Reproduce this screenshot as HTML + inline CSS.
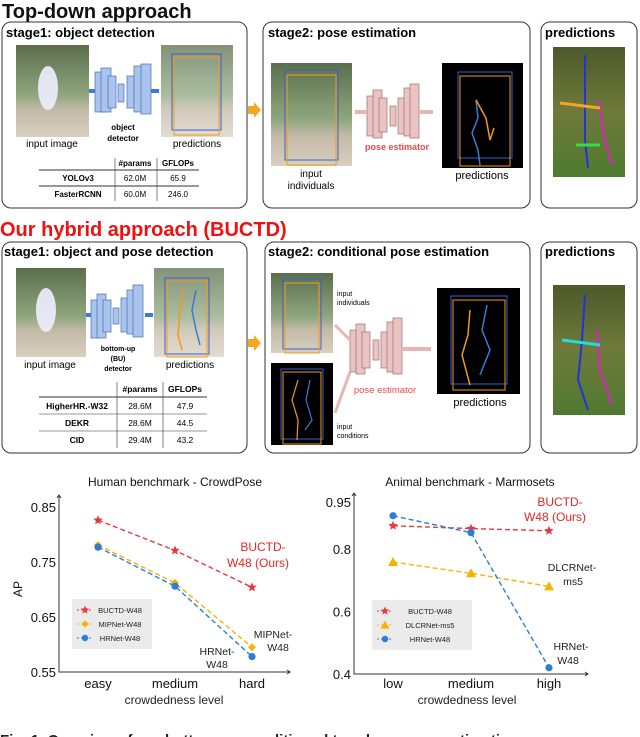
<!DOCTYPE html>
<html><head><meta charset="utf-8"><style>
body{margin:0;background:#fff;width:640px;height:737px;overflow:hidden;font-family:"Liberation Sans",sans-serif}
svg{display:block}
</style></head><body>
<svg id="s" width="640" height="737" viewBox="0 0 640 737" xmlns="http://www.w3.org/2000/svg" font-family="Liberation Sans, sans-serif">
<defs>
<linearGradient id="ph" x1="0" y1="0" x2="0" y2="1"><stop offset="0" stop-color="#5a6e4c"/><stop offset="0.55" stop-color="#8fa77f"/><stop offset="0.7" stop-color="#c2b9a6"/><stop offset="1" stop-color="#d8cfc0"/></linearGradient>
<linearGradient id="ph2" x1="0" y1="0" x2="0" y2="1"><stop offset="0" stop-color="#4d5a2a"/><stop offset="0.5" stop-color="#6f7a3a"/><stop offset="1" stop-color="#4f7a2f"/></linearGradient>
</defs>
<text x="2" y="18" font-size="20" font-weight="bold" fill="#111">Top-down approach</text>
<rect x="2" y="22" width="245" height="186" rx="9" fill="none" stroke="#333" stroke-width="1"/>
<text x="6" y="37" font-size="13" font-weight="bold">stage1: object detection</text>
<rect x="16" y="45" width="73" height="92" fill="url(#ph)"/>
<ellipse cx="48" cy="88" rx="10" ry="22" fill="#eef" opacity="0.9"/>
<g fill="#a9c4ef" stroke="#4a6fa5" stroke-width="0.7">
<rect x="95" y="72" width="10" height="40"/><rect x="101" y="68" width="10" height="44"/><rect x="108" y="76" width="8" height="32"/><rect x="118" y="84" width="6" height="18"/><rect x="127" y="76" width="8" height="32"/><rect x="134" y="66" width="10" height="46"/><rect x="141" y="64" width="10" height="50"/>
</g>
<rect x="89" y="89" width="6" height="4" fill="#3a7bd5"/><rect x="151" y="89" width="8" height="4" fill="#3a7bd5"/>
<text x="123" y="130" font-size="8" text-anchor="middle" font-weight="bold">object</text><text x="123" y="141" font-size="8" text-anchor="middle" font-weight="bold">detector</text>
<text x="52" y="147" font-size="10" text-anchor="middle">input image</text>
<rect x="161" y="45" width="72" height="92" fill="url(#ph)" opacity="0.75"/>
<rect x="172" y="54" width="49" height="76" fill="none" stroke="#3a5fd0" stroke-width="1"/><rect x="174" y="57" width="45" height="78" fill="none" stroke="#f39c12" stroke-width="1"/>
<text x="197" y="147" font-size="10" text-anchor="middle">predictions</text>
<g font-size="8">
<text x="135" y="166" text-anchor="middle" font-weight="bold">#params</text><text x="178" y="166" text-anchor="middle" font-weight="bold">GFLOPs</text>
<line x1="39" y1="170" x2="199" y2="170" stroke="#333"/><line x1="39" y1="186" x2="199" y2="186" stroke="#333"/>
<line x1="115" y1="158" x2="115" y2="201" stroke="#333" stroke-width="0.6"/><line x1="157" y1="158" x2="157" y2="201" stroke="#333" stroke-width="0.6"/>
<text x="78" y="181" text-anchor="middle" font-weight="bold">YOLOv3</text><text x="135" y="181" text-anchor="middle">62.0M</text><text x="178" y="181" text-anchor="middle">65.9</text>
<text x="78" y="197" text-anchor="middle" font-weight="bold">FasterRCNN</text><text x="135" y="197" text-anchor="middle">60.0M</text><text x="178" y="197" text-anchor="middle">246.0</text>
</g>
<polygon points="248,106 254,106 254,102 261,110 254,118 254,114 248,114" fill="#f5a623"/>
<rect x="263" y="22" width="267" height="186" rx="9" fill="none" stroke="#333"/>
<text x="268" y="37" font-size="13" font-weight="bold">stage2: pose estimation</text>
<rect x="271" y="63" width="81" height="103" fill="url(#ph)"/>
<rect x="285" y="70" width="53" height="90" fill="none" stroke="#3a5fd0"/><rect x="287" y="75" width="49" height="90" fill="none" stroke="#f39c12"/>
<text x="311" y="177" font-size="10" text-anchor="middle">input</text><text x="311" y="189" font-size="10" text-anchor="middle">individuals</text>
<g fill="#ecc3c3" stroke="#9a7070" stroke-width="0.7">
<rect x="367" y="96" width="9" height="40"/><rect x="373" y="90" width="9" height="48"/><rect x="379" y="98" width="8" height="34"/><rect x="390" y="106" width="6" height="20"/><rect x="398" y="98" width="8" height="36"/><rect x="404" y="88" width="9" height="48"/><rect x="410" y="84" width="9" height="54"/>
</g>
<rect x="355" y="110" width="12" height="4" fill="#e8b4b4"/><rect x="419" y="110" width="14" height="4" fill="#e8b4b4"/>
<text x="397" y="150" font-size="9" text-anchor="middle" fill="#e84a4a" font-weight="bold">pose estimator</text>
<rect x="442" y="63" width="81" height="105" fill="#000"/>
<rect x="458" y="72" width="54" height="86" fill="none" stroke="#3a5fd0"/><rect x="460" y="76" width="50" height="90" fill="none" stroke="#f39c12"/>
<polyline points="476,100 478,118 472,133 478,150 480,165" fill="none" stroke="#3a7bd5" stroke-width="1.5"/><polyline points="476,100 486,118 490,140 494,128" fill="none" stroke="#f39c12" stroke-width="1.5"/>
<text x="482" y="179" font-size="11" text-anchor="middle">predictions</text>
<rect x="541" y="22" width="96" height="186" rx="9" fill="none" stroke="#333"/>
<text x="545" y="37" font-size="13" font-weight="bold">predictions</text>
<rect x="553" y="47" width="72" height="130" fill="url(#ph2)"/>
<polyline points="585,55 585,140 588,168" fill="none" stroke="#2233dd" stroke-width="2"/><polyline points="598,100 605,140 612,165" fill="none" stroke="#e020c0" stroke-width="2"/><line x1="560" y1="103" x2="600" y2="108" stroke="#f7a51c" stroke-width="3"/><line x1="576" y1="145" x2="600" y2="145" stroke="#33dd44" stroke-width="3"/>
<text x="0" y="236" font-size="20" font-weight="bold" fill="#ee1111">Our hybrid approach (BUCTD)</text>
<rect x="2" y="242" width="245" height="211" rx="9" fill="none" stroke="#333"/>
<text x="4" y="256" font-size="13" font-weight="bold">stage1: object and pose detection</text>
<rect x="16" y="268" width="70" height="89" fill="url(#ph)"/>
<ellipse cx="46" cy="310" rx="10" ry="22" fill="#eef" opacity="0.9"/>
<g fill="#a9c4ef" stroke="#4a6fa5" stroke-width="0.7">
<rect x="91" y="300" width="9" height="38"/><rect x="97" y="294" width="9" height="44"/><rect x="103" y="300" width="8" height="32"/><rect x="113" y="308" width="6" height="16"/><rect x="121" y="298" width="8" height="34"/><rect x="127" y="290" width="9" height="44"/><rect x="133" y="285" width="10" height="52"/>
</g>
<rect x="86" y="313" width="5" height="4" fill="#3a7bd5"/><rect x="145" y="313" width="8" height="4" fill="#3a7bd5"/>
<text x="118" y="351" font-size="7" text-anchor="middle" font-weight="bold">bottom-up</text><text x="118" y="361" font-size="7" text-anchor="middle" font-weight="bold">(BU)</text><text x="118" y="371" font-size="7" text-anchor="middle" font-weight="bold">detector</text>
<text x="50" y="368" font-size="10" text-anchor="middle">input image</text>
<rect x="154" y="268" width="70" height="89" fill="url(#ph)" opacity="0.75"/>
<rect x="165" y="278" width="44" height="76" fill="none" stroke="#3a5fd0"/><rect x="167" y="281" width="40" height="76" fill="none" stroke="#f39c12"/>
<polyline points="183,290 180,310 178,335 182,350" fill="none" stroke="#f39c12" stroke-width="1.5"/><polyline points="196,290 192,310 196,330 200,345" fill="none" stroke="#3a7bd5" stroke-width="1.5"/>
<text x="190" y="368" font-size="10" text-anchor="middle">predictions</text>
<g font-size="8.5">
<text x="140" y="392" text-anchor="middle" font-weight="bold">#params</text><text x="185" y="392" text-anchor="middle" font-weight="bold">GFLOPs</text>
<line x1="39" y1="397" x2="207" y2="397" stroke="#333"/><line x1="39" y1="414" x2="207" y2="414" stroke="#333" stroke-width="0.6"/><line x1="39" y1="431" x2="207" y2="431" stroke="#333" stroke-width="0.6"/>
<line x1="117" y1="382" x2="117" y2="448" stroke="#333" stroke-width="0.6"/><line x1="163" y1="382" x2="163" y2="448" stroke="#333" stroke-width="0.6"/>
<text x="77" y="409" text-anchor="middle" font-weight="bold">HigherHR.-W32</text><text x="140" y="409" text-anchor="middle">28.6M</text><text x="185" y="409" text-anchor="middle">47.9</text>
<text x="77" y="426" text-anchor="middle" font-weight="bold">DEKR</text><text x="140" y="426" text-anchor="middle">28.6M</text><text x="185" y="426" text-anchor="middle">44.5</text>
<text x="77" y="443" text-anchor="middle" font-weight="bold">CID</text><text x="140" y="443" text-anchor="middle">29.4M</text><text x="185" y="443" text-anchor="middle">43.2</text>
</g>
<polygon points="248,339 254,339 254,335 261,343 254,351 254,347 248,347" fill="#f5a623"/>
<rect x="265" y="242" width="265" height="211" rx="9" fill="none" stroke="#333"/>
<text x="268" y="256" font-size="13" font-weight="bold">stage2: conditional pose estimation</text>
<rect x="271" y="273" width="62" height="80" fill="url(#ph)"/>
<rect x="283" y="279" width="38" height="70" fill="none" stroke="#3a5fd0"/><rect x="285" y="283" width="34" height="70" fill="none" stroke="#f39c12"/>
<text x="337" y="296" font-size="7">input</text><text x="337" y="305" font-size="7">individuals</text>
<rect x="271" y="363" width="62" height="82" fill="#000"/>
<rect x="281" y="369" width="42" height="70" fill="none" stroke="#3a5fd0"/><rect x="283" y="372" width="38" height="72" fill="none" stroke="#f39c12"/>
<polyline points="298,380 292,400 298,420 297,440" fill="none" stroke="#f39c12" stroke-width="1.2"/><polyline points="310,380 306,400 312,420 305,430" fill="none" stroke="#3a7bd5" stroke-width="1.2"/>
<text x="337" y="429" font-size="7">input</text><text x="337" y="438" font-size="7">conditions</text>
<g fill="#ecc3c3" stroke="#9a7070" stroke-width="0.7">
<rect x="350" y="330" width="9" height="42"/><rect x="356" y="324" width="9" height="50"/><rect x="362" y="332" width="8" height="36"/><rect x="373" y="340" width="6" height="20"/><rect x="381" y="332" width="8" height="36"/><rect x="387" y="322" width="9" height="50"/><rect x="393" y="318" width="9" height="56"/>
</g>
<line x1="335" y1="325" x2="350" y2="340" stroke="#e8b4b4" stroke-width="3"/><line x1="335" y1="413" x2="350" y2="372" stroke="#e8b4b4" stroke-width="3"/><rect x="403" y="347" width="28" height="4" fill="#e8b4b4"/>
<text x="385" y="393" font-size="9.5" text-anchor="middle" fill="#e84a4a">pose estimator</text>
<rect x="437" y="288" width="83" height="106" fill="#000"/>
<rect x="451" y="296" width="56" height="88" fill="none" stroke="#3a5fd0"/><rect x="453" y="300" width="52" height="90" fill="none" stroke="#f39c12"/>
<polyline points="470,310 468,335 462,355 470,385" fill="none" stroke="#f39c12" stroke-width="1.5"/><polyline points="487,305 482,330 490,350 480,375" fill="none" stroke="#3a7bd5" stroke-width="1.5"/>
<text x="480" y="406" font-size="11" text-anchor="middle">predictions</text>
<rect x="541" y="242" width="96" height="211" rx="9" fill="none" stroke="#333"/>
<text x="545" y="256" font-size="13" font-weight="bold">predictions</text>
<rect x="553" y="285" width="72" height="130" fill="url(#ph2)"/>
<polyline points="585,295 582,340 578,380 588,410" fill="none" stroke="#2233dd" stroke-width="2"/><polyline points="597,330 600,370 612,405" fill="none" stroke="#e020c0" stroke-width="2"/><line x1="562" y1="340" x2="600" y2="345" stroke="#22dddd" stroke-width="3"/>
<g id="charts"></g>
<text x="0" y="745" font-size="15" font-weight="bold" fill="#222">Fig. 1.  Overview of our bottom-up conditioned top-down pose estimation</text>
</svg>
<script>
const catsL=["easy","medium","hard"];
const buctdL=[0.826,0.771,0.704];
const mipL=[0.781,0.712,0.595];
const hrL=[0.777,0.706,0.578];
const ticksL=[0.55,0.65,0.75,0.85];
const catsR=["low","medium","high"];
const buctdR=[0.874,0.865,0.858];
const dlcR=[0.758,0.722,0.68];
const hrR=[0.906,0.852,0.42];
const ticksR=[0.4,0.6,0.8,0.95];
const NS="http://www.w3.org/2000/svg";
const g=document.getElementById('charts');
function el(t,a,p){const e=document.createElementNS(NS,t);for(const k in a)e.setAttribute(k,a[k]);(p||g).appendChild(e);return e;}
function txt(x,y,s,a,p){const e=el('text',Object.assign({x:x,y:y},a),p);e.textContent=s;return e;}
function marker(p,type,x,y,c,r){
 if(type==='star'){let pts=[];for(let i=0;i<10;i++){const rr=i%2?r*0.45:r;const a=-Math.PI/2+i*Math.PI/5;pts.push((x+rr*Math.cos(a)).toFixed(1)+','+(y+rr*Math.sin(a)).toFixed(1));}return el('polygon',{points:pts.join(' '),fill:c},p);}
 if(type==='diamond')return el('polygon',{points:`${x},${y-r} ${x+r},${y} ${x},${y+r} ${x-r},${y}`,fill:c},p);
 if(type==='tri')return el('polygon',{points:`${x},${y-r} ${x+r},${y+r*0.8} ${x-r},${y+r*0.8}`,fill:c},p);
 return el('circle',{cx:x,cy:y,r:r*0.8,fill:c},p);
}
function chart(cfg){
 const p=el('g',{});
 
 
 const yS=v=>cfg.y0+(v-cfg.vmin)/(cfg.vmax-cfg.vmin)*(cfg.y1-cfg.y0);
 const xS=i=>cfg.xc[0]+i*(cfg.xc[1]-cfg.xc[0]);
 const ax=el('path',{d:`M${cfg.ax} ${cfg.ytop} L${cfg.ax} ${cfg.y0} L${cfg.xend} ${cfg.y0}`,fill:'none',stroke:'#333','stroke-width':1},p);
 
 
 el('path',{d:`M${cfg.ax-2} ${cfg.ytop+3}L${cfg.ax} ${cfg.ytop}L${cfg.ax+2} ${cfg.ytop+3}M${cfg.xend-3} ${cfg.y0-2}L${cfg.xend} ${cfg.y0}L${cfg.xend-3} ${cfg.y0+2}`,fill:'none',stroke:'#333'},p);
 const tt=txt(cfg.tx,486,cfg.title,{'font-size':12,'text-anchor':'middle',fill:'#111'},p);
 
 
 cfg.ticks.forEach(v=>{const t=txt(cfg.ax-3,yS(v)+5,String(v),{'font-size':13,'text-anchor':'end',fill:'#111'},p);
 
 });
 cfg.cats.forEach((c,i)=>{const t=txt(xS(i),688,c,{'font-size':13,'text-anchor':'middle',fill:'#111'},p);
 
 });
 const xl=txt(cfg.xlx,704,'crowdedness level',{'font-size':12,'text-anchor':'middle',fill:'#222'},p);
 
 
 cfg.series.forEach(s=>{
  const pts=s.vals.map((v,i)=>xS(i)+','+yS(v)).join(' ');
  const l=el('polyline',{points:pts,fill:'none',stroke:s.color,'stroke-width':1.4,'stroke-dasharray':'5,3'},p);
  
  
  s.vals.forEach((v,i)=>{const m=marker(p,s.m,xS(i),yS(v),s.color,s.r);
  
  });
 });
 const lg=el('g',{},p);
 
 
 el('rect',{x:cfg.lx,y:cfg.ly,width:cfg.lw,height:50,fill:'#ebebeb'},lg);
 cfg.series.forEach((s,i)=>{const yy=cfg.ly+11+i*14;el('line',{x1:cfg.lx+5,y1:yy,x2:cfg.lx+21,y2:yy,stroke:s.color,'stroke-dasharray':'2,2'},lg);marker(lg,s.m,cfg.lx+13,yy,s.color,s.r*0.9);const t=txt(cfg.lx+cfg.lw/2+8,yy+3,s.label,{'font-size':7.5,'text-anchor':'middle',fill:'#222'},lg);
 
 });
 cfg.notes.forEach(n=>{const t=txt(n[0],n[1],n[2],{'font-size':n[4]||11,'text-anchor':'middle',fill:n[3]},p);
 
 });
}
chart({name:'crowdpose-chart',title:'Human benchmark - CrowdPose',tx:175,ax:59,ytop:495,xend:290,y0:672,y1:507,vmin:0.55,vmax:0.85,xc:[98,175],cats:catsL,ticks:ticksL,xlx:174,
 series:[{key:'buctd',vals:buctdL,color:'#e83a3a',m:'star',r:5,label:'BUCTD-W48'},{key:'mipnet',vals:mipL,color:'#f5b400',m:'diamond',r:4,label:'MIPNet-W48'},{key:'hrnet',vals:hrL,color:'#2a7fd4',m:'circle',r:4.5,label:'HRNet-W48'}],
 lx:72,ly:599,lw:80,
 notes:[[263,551,'BUCTD-','#ee2222',12],[258,567,'W48 (Ours)','#ee2222',12],[273,638,'MIPNet-','#222',10.5],[278,651,'W48','#222',10.5],[217,655,'HRNet-','#222',10.5],[217,668,'W48','#222',10.5]]});
const apLabel=txt(0,0,'AP',{'font-size':12,transform:'translate(22,597) rotate(-90)',fill:'#111'});


chart({name:'marmosets-chart',title:'Animal benchmark - Marmosets',tx:470,ax:354,ytop:493,xend:588,y0:674,y1:502,vmin:0.4,vmax:0.95,xc:[393,471],cats:catsR,ticks:ticksR,xlx:467,
 series:[{key:'buctd',vals:buctdR,color:'#e83a3a',m:'star',r:5,label:'BUCTD-W48'},{key:'dlcrnet',vals:dlcR,color:'#f5b400',m:'tri',r:5,label:'DLCRNet-ms5'},{key:'hrnet',vals:hrR,color:'#2a7fd4',m:'circle',r:4.5,label:'HRNet-W48'}],
 lx:372,ly:600,lw:100,
 notes:[[560,506,'BUCTD-','#ee2222',12],[555,521,'W48 (Ours)','#ee2222',12],[572,571,'DLCRNet-','#222',10.5],[573,585,'ms5','#222',10.5],[571,650,'HRNet-','#222',10.5],[568,664,'W48','#222',10.5]]});
</script>
</body></html>
